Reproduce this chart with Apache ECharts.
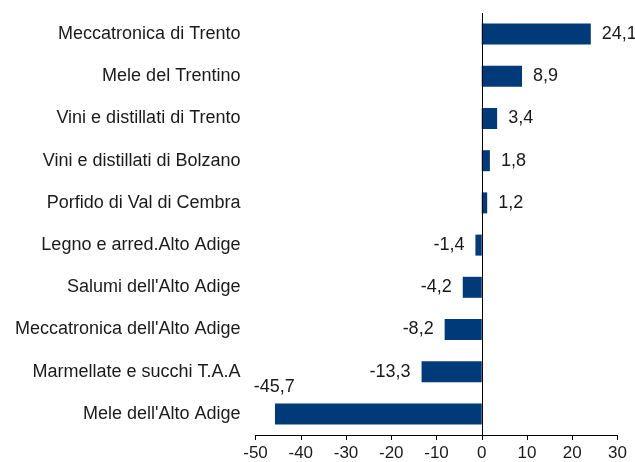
<!DOCTYPE html>
<html>
<head>
<meta charset="utf-8">
<script src="https://cdn.jsdelivr.net/npm/echarts@6/dist/echarts.min.js"></script>
<style>
  html, body { margin: 0; padding: 0; background: #fff; }
  #chart { width: 635px; height: 462px; }
</style>
</head>
<body>
<div id="chart"></div>
<script>
  // categories top to bottom
  const categories = [
    'Meccatronica di Trento',
    'Mele del Trentino',
    'Vini e distillati di Trento',
    'Vini e distillati di Bolzano',
    'Porfido di Val di Cembra',
    'Legno e arred.Alto Adige',
    "Salumi dell'Alto Adige",
    "Meccatronica dell'Alto Adige",
    'Marmellate e succhi T.A.A',
    "Mele dell'Alto Adige"
  ];
  const values = [24.1, 8.9, 3.4, 1.8, 1.2, -1.4, -4.2, -8.2, -13.3, -45.7];
  const xTicks = { min: -50, max: 30, step: 10 };

  const fmt = v => String(v).replace('.', ',');
  const barColor = '#003a78';
  const font = 'Liberation Sans, Arial, sans-serif';
  const txt = '#1a1a1a';

  const seriesData = values.map((v, i) => {
    const item = { value: v };
    if (i === values.length - 1) {
      // the big negative bar: label sits above its left end
      item.label = { position: 'top', offset: [-104, 4], padding: 0 };
    } else {
      item.label = { position: v < 0 ? 'left' : 'right' };
    }
    return item;
  });

  const chart = echarts.init(document.getElementById('chart'));
  chart.setOption({
    animation: false,
    grid: { left: 255.5, right: 17.5, top: 13, bottom: 27 },
    xAxis: {
      type: 'value',
      min: xTicks.min,
      max: xTicks.max,
      interval: xTicks.step,
      splitLine: { show: false },
      axisLine: { show: true, onZero: false, lineStyle: { color: '#000', width: 1 } },
      axisTick: { show: true, length: 5, lineStyle: { color: '#000' } },
      axisLabel: { color: txt, fontSize: 17, fontFamily: font, margin: 10 }
    },
    yAxis: {
      type: 'category',
      data: categories,
      inverse: true,
      axisLine: { show: false },
      axisTick: { show: false },
      axisLabel: { color: txt, fontSize: 18, fontFamily: font, margin: 15, padding: [4, 0, 0, 0] }
    },
    series: [{
      type: 'bar',
      data: seriesData,
      barWidth: 21,
      itemStyle: { color: barColor },
      label: {
        show: true,
        fontSize: 18,
        fontFamily: font,
        color: txt,
        distance: 11,
        padding: [4, 0, 0, 0],
        formatter: p => fmt(p.value)
      },
      markLine: {
        silent: true,
        symbol: 'none',
        label: { show: false },
        lineStyle: { color: '#000', width: 1, type: 'solid' },
        data: [{ xAxis: 0 }]
      }
    }]
  });
</script>
</body>
</html>
